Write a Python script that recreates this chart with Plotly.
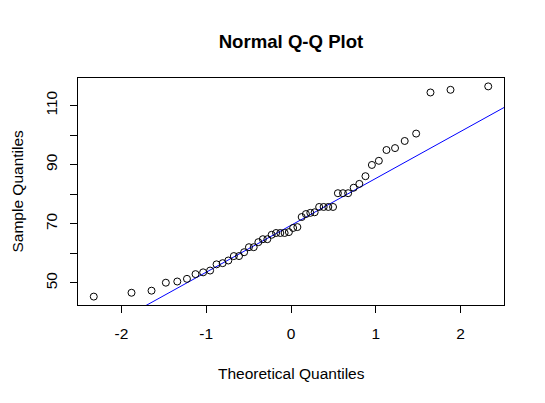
import plotly.graph_objects as go

# Theoretical normal quantiles (n = 50)
theoretical = [-2.326, -1.881, -1.645, -1.476, -1.341, -1.227, -1.126, -1.036, -0.954, -0.878,
               -0.806, -0.739, -0.674, -0.613, -0.553, -0.496, -0.440, -0.385, -0.332, -0.279,
               -0.228, -0.176, -0.126, -0.075, -0.025, 0.025, 0.075, 0.126, 0.176, 0.228,
               0.279, 0.332, 0.385, 0.440, 0.496, 0.553, 0.613, 0.674, 0.739, 0.806,
               0.878, 0.954, 1.036, 1.126, 1.227, 1.341, 1.476, 1.645, 1.881, 2.326]
# Sample quantiles (sorted data)
sample = [45.4, 46.7, 47.4, 50.1, 50.5, 51.4, 53.0, 53.6, 54.2, 56.3,
          56.7, 57.6, 59.1, 59.1, 60.4, 62.1, 62.1, 63.8, 64.8, 64.8,
          66.3, 66.9, 66.9, 66.9, 67.2, 68.6, 68.9, 72.3, 73.3, 73.7,
          73.9, 75.7, 75.7, 75.7, 75.7, 80.35, 80.35, 80.35, 82.2, 83.5,
          86.1, 89.9, 91.3, 94.95, 95.6, 98.0, 100.5, 114.4, 115.3, 116.45]

# qqline parameters
line_intercept = 69.5
line_slope = 15.85
line_x = [-3.0, 3.0]
line_y = [line_intercept + line_slope * v for v in line_x]

x_ticks = [-2, -1, 0, 1, 2]
x_ticktext = ["-2", "-1", "0", "1", "2"]
y_ticks = [50, 60, 70, 80, 90, 100, 110]
y_ticktext = ["50", "", "70", "", "90", "", "110"]

FONT = "Liberation Sans, Arial, sans-serif"
W, H = 537, 395  # page body has an 8px default margin

fig = go.Figure()
fig.add_trace(go.Scatter(
    x=line_x, y=line_y, mode="lines",
    line=dict(color="#0000ff", width=1), hoverinfo="skip", showlegend=False))
fig.add_trace(go.Scatter(
    x=theoretical, y=sample, mode="markers",
    marker=dict(symbol="circle-open", size=7, color="black", line=dict(width=1)),
    showlegend=False))

axis_common = dict(
    showline=True, linecolor="black", linewidth=1, mirror=True,
    showgrid=False, zeroline=False, ticks="outside", ticklen=7,
    tickcolor="black", tickwidth=1,
    tickfont=dict(family=FONT, size=15.5, color="black"),
)

fig.update_layout(
    width=W, height=H,
    paper_bgcolor="white", plot_bgcolor="white",
    margin=dict(l=70, r=41, t=70, b=98),
    font=dict(family=FONT, color="black"),
    title=dict(text="<b>Normal Q-Q Plot</b>", x=0.5, xref="paper",
               y=1 - 33 / H, yref="container", xanchor="center", yanchor="middle",
               font=dict(family=FONT, size=18.6, color="black")),
    xaxis=dict(range=[-2.512, 2.512], tickvals=x_ticks, ticktext=x_ticktext,
               ticklabelstandoff=7, **axis_common),
    yaxis=dict(range=[42.56, 119.29], tickvals=y_ticks, ticktext=y_ticktext,
               tickangle=-90, ticklabelstandoff=7, **axis_common),
    annotations=[
        dict(text="Theoretical Quantiles", xref="paper", yref="paper", x=0.5, y=0,
             xanchor="center", yanchor="middle", yshift=-68, showarrow=False,
             font=dict(family=FONT, size=15.5, color="black")),
        dict(text="Sample Quantiles", xref="paper", yref="paper", x=0, y=0.5,
             xanchor="center", yanchor="middle", xshift=-61, textangle=-90, showarrow=False,
             font=dict(family=FONT, size=15.5, color="black")),
    ],
)

fig.write_html("out.html")
